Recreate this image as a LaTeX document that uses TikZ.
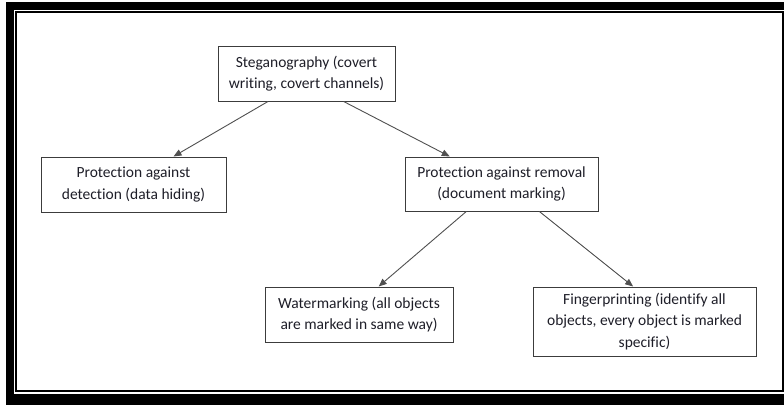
\documentclass[tikz,border=0pt]{standalone}
\usepackage{fontspec}
\setmainfont{Carlito}[Ligatures=NoCommon]
\usetikzlibrary{arrows.meta}

\definecolor{boxline}{RGB}{60,60,60}
\definecolor{arrowline}{RGB}{80,80,80}
\definecolor{boxtext}{RGB}{30,30,40}

\tikzstyle{box} = [draw=boxline, line width=1pt, fill=white, align=center, inner sep=2pt,
    text=boxtext, font=\fontsize{15.5}{21.5}\selectfont]
\tikzstyle{edge} = [draw, line width=0.9pt, ->, arrowline]
\tikzstyle{frame band} = [fill=black]
\tikzstyle{frame line} = [draw=black, line width=1.3pt]

\begin{document}
\begin{tikzpicture}[x=1pt, y=-1pt, >={Triangle[length=8pt,width=6.5pt]}]
    \useasboundingbox[fill=white] (0,0) rectangle (784,405);
    % Page frame
    \path[frame band] (6,2) rectangle (784,10);
    \path[frame band] (6,2) rectangle (14,405);
    \path[frame band] (6,394) rectangle (784,405);
    \path[frame line] (16,12) rectangle (783,391);
    % The boxes of the tree
    \foreach \pos/\name/\bw/\bh/\txt in {
        {(306.5,73.5)/steg/177/55/{Steganography (covert\\writing, covert channels)}},
        {(133.5,184.5)/detect/185/55/{Protection against\\detection (data hiding)}},
        {(501.5,184)/remove/193/54/{Protection against removal\\(document marking)}},
        {(359,314.5)/watermark/188/55/{Watermarking (all objects\\are marked in same way)}},
        {(644.5,321.5)/fingerprint/223/69/{Fingerprinting (identify all\\objects, every object is marked\\specific)}}}
    \node[box, minimum width=\bw, minimum height=\bh] (\name) at \pos {\txt};
    % Connectors
    \foreach \source/\dest in {
        steg.216/detect.35, steg.323/remove.152,
        remove.218/watermark.55, remove.324/fingerprint.108}
    \path[edge] (\source) -- (\dest);
\end{tikzpicture}
\end{document}
